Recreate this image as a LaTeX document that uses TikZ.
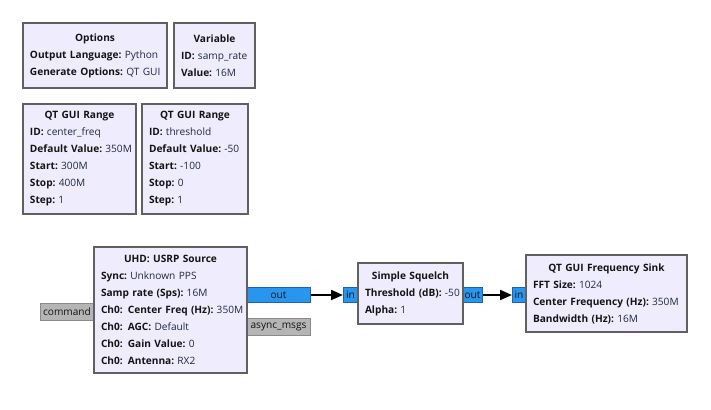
\documentclass[tikz,border=0pt]{standalone}
\usepackage{fontspec}
\setmainfont{Open Sans}
\usetikzlibrary{arrows.meta,positioning}
\definecolor{GrcFill}{HTML}{EFEDFD}
\definecolor{GrcEdge}{HTML}{606060}
\definecolor{GrcInk}{HTML}{141414}
\definecolor{GrcValue}{HTML}{1E2846}
\definecolor{GrcPort}{HTML}{2895EE}
\definecolor{GrcPortEdge}{HTML}{1B62B0}
\definecolor{GrcMsg}{HTML}{B5B5B5}
\definecolor{GrcMsgEdge}{HTML}{8A8A8A}
\setlength{\parindent}{0pt}
\newcommand{\blocktitle}[1]{{\centering\bfseries\color{GrcInk}#1\par}}
\newcommand{\fld}[2]{\mbox{\textcolor{GrcInk}{\bfseries #1:}\hspace{2.4pt}#2}}
\tikzset{
  every node/.style={font=\fontsize{7.6}{12.75}\selectfont},
  block/.style={draw=GrcEdge, line width=1.5pt, fill=GrcFill, text=GrcValue, anchor=north west, align=left, inner xsep=5.25pt, inner ysep=0pt},
  port/.style={draw=GrcPortEdge, line width=0.75pt, fill=GrcPort, text=GrcInk, anchor=north west, inner sep=0pt, minimum height=11.25pt},
  msgport/.style={draw=GrcMsgEdge, line width=0.75pt, fill=GrcMsg, text=GrcInk, anchor=north west, inner sep=0pt, minimum height=12.75pt},
  wire/.style={-{Triangle[length=9pt,width=7.5pt]}, draw=black, line width=1.5pt},
}

\begin{document}
\begin{tikzpicture}[x=0.75pt,y=-0.75pt]
  \useasboundingbox (0,0) rectangle (711,410);
  % ports sit under the block edges
  \node[msgport, minimum width=39.75pt] (command) at (40,303) {command};
  \node[port, minimum width=48pt] (srcout) at (246,287) {out};
  \node[msgport, minimum width=48pt] (asyncmsgs) at (246,318) {async\_msgs};
  \node[port, minimum width=10.5pt] (sqin) at (343,287) {in};
  \node[port, minimum width=15pt] (sqout) at (462,287) {out};
  \node[port, minimum width=9.75pt] (sinkin) at (512,287) {in};
  % variable blocks
  \node[block, text width=97.5pt, minimum height=48.75pt] (options) at (22,22)
    {\blocktitle{Options}\fld{Output Language}{Python}\\\fld{Generate Options}{QT GUI}};
  \node[block, text width=50.25pt, minimum height=48.75pt] (variable) at (173,22)
    {\blocktitle{Variable}\fld{ID}{samp\_rate}\\\fld{Value}{16M}};
  \node[block, text width=74.25pt, minimum height=82.5pt] (rangefreq) at (22,103)
    {\blocktitle{QT GUI Range}\fld{ID}{center\_freq}\\\fld{Default Value}{350M}\\
     \fld{Start}{300M}\\\fld{Stop}{400M}\\\fld{Step}{1}};
  \node[block, text width=69pt, minimum height=82.5pt] (rangethr) at (141,103)
    {\blocktitle{QT GUI Range}\fld{ID}{threshold}\\\fld{Default Value}{-50}\\
     \fld{Start}{-100}\\\fld{Stop}{0}\\\fld{Step}{1}};
  % signal chain
  \node[block, text width=104.25pt, minimum height=94.5pt] (usrp) at (93,246)
    {\blocktitle{UHD: USRP Source}\fld{Sync}{Unknown PPS}\\\fld{Samp rate (Sps)}{16M}\\
     \fld{Ch0: Center Freq (Hz)}{350M}\\\fld{Ch0: AGC}{Default}\\
     \fld{Ch0: Gain Value}{0}\\\fld{Ch0: Antenna}{RX2}};
  \node[block, text width=68.25pt, minimum height=45.75pt] (squelch) at (357,262)
    {\blocktitle{Simple Squelch}\fld{Threshold (dB)}{-50}\\\fld{Alpha}{1}};
  \node[block, text width=110.25pt, minimum height=57.75pt] (freqsink) at (525,254)
    {\blocktitle{QT GUI Frequency Sink}\fld{FFT Size}{1024}\\
     \fld{Center Frequency (Hz)}{350M}\\\fld{Bandwidth (Hz)}{16M}};
  \draw[wire] (srcout.east) -- (sqin.west);
  \draw[wire] (sqout.east) -- (sinkin.west);
\end{tikzpicture}
\end{document}
